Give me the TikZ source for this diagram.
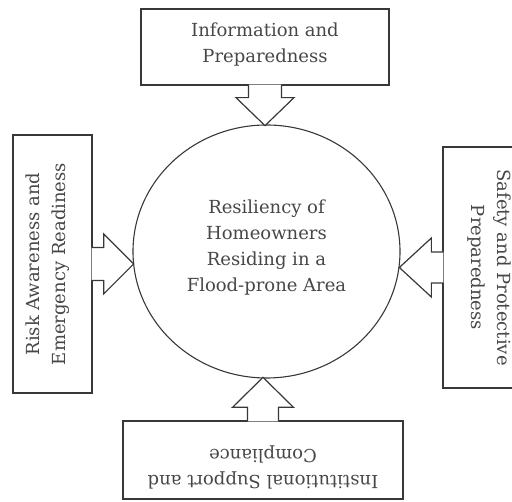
\documentclass[tikz,border=0pt]{standalone}
\usepackage{fontspec}
\setmainfont{DejaVu Serif}
\usetikzlibrary{shapes.geometric,calc}
\begin{document}
\begin{tikzpicture}[x=1pt,y=1pt,
  lw/.style={line width=1.3pt, draw=black!78},
  boxst/.style={lw, rectangle, inner sep=0pt, align=center, text=black!72,
    font=\fontsize{18}{26}\selectfont},
  blk/.style={lw, line width=1.2pt, fill=white, line join=miter}]
\useasboundingbox (0,0) rectangle (512,-502);
% centre
\node[lw, line width=1.1pt, ellipse, minimum width=267, minimum height=253, inner sep=0pt,
  align=center, text=black!72, font=\fontsize{18}{26}\selectfont]
  (circ) at (266.5,-251.5) {Resiliency of\\Homeowners\\Residing in a\\Flood-prone Area\rule[-12pt]{0pt}{0pt}};
% boxes
\node[boxst, minimum width=248, minimum height=76] (top) at (265,-47)
  {Information and\\Preparedness\rule[-8pt]{0pt}{0pt}};
\node[boxst, rotate=90, minimum width=258, minimum height=79] (left) at (52.5,-264)
  {Risk Awareness and\\Emergency Readiness\rule[-14pt]{0pt}{0pt}};
\node[boxst, rotate=-90, minimum width=241, minimum height=79] (right) at (482.5,-267.5)
  {Safety and Protective\\Preparedness\rule[-18pt]{0pt}{0pt}};
\node[boxst, rotate=180, minimum width=280, minimum height=78] (bottom) at (263,-460)
  {Institutional Support and\\Compliance\rule[-18pt]{0pt}{0pt}};
% block arrows
\filldraw[blk] ($(top.south)+(-16.5,1)$) -- ++(0,-13) -- ++(-12.5,0)
  -- ($(top.south)+(0,-40)$) -- ($(top.south)+(29,-12)$) -- ++(-12.5,0) -- ++(0,13);
\filldraw[blk] ($(left.south)+(-1,16.5)$) -- ++(12,0) -- ++(0,13.5)
  -- ($(left.south)+(41,0)$) -- ($(left.south)+(11,-30)$) -- ++(0,13.5) -- ++(-12,0);
\filldraw[blk] ($(right.south)+(1,15.5)$) -- ++(-12,0) -- ++(0,14)
  -- ($(right.south)+(-43,0)$) -- ($(right.south)+(-11,-29.5)$) -- ++(0,14) -- ++(12,0);
\filldraw[blk] ($(bottom.south)+(-15.5,-1)$) -- ++(0,14) -- ++(-15,0)
  -- ($(bottom.south)+(0,43)$) -- ($(bottom.south)+(30.5,13)$) -- ++(-15,0) -- ++(0,-14);
\end{tikzpicture}
\end{document}
